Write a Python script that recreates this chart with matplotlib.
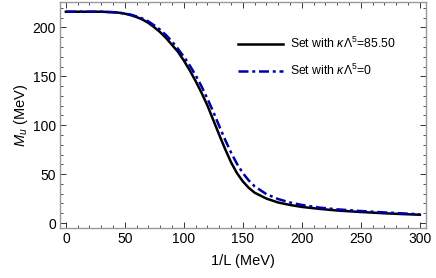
import numpy as np
import matplotlib
matplotlib.use("Agg")
import matplotlib.pyplot as plt
from matplotlib.ticker import MultipleLocator

plt.rcParams['font.family'] = ['Liberation Sans', 'DejaVu Sans']
plt.rcParams['mathtext.fontset'] = 'custom'
plt.rcParams['mathtext.rm'] = 'Liberation Sans'
plt.rcParams['mathtext.it'] = 'Liberation Sans:italic'

# 1/L (MeV) and constituent mass M_u (MeV)
invL = [0, 10, 20, 30, 40, 45, 50, 55, 60, 65, 70, 75, 80, 85, 90, 95,
        100, 105, 110, 115, 120, 125, 130, 135, 140, 145, 150, 155, 160,
        170, 180, 190, 200, 215, 230, 250, 270, 285, 300]
mu_kappa = [216, 216, 216, 216, 215.5, 215, 214, 212.5, 210.5, 208, 204.5,
            200, 195, 189, 182, 175, 166, 156, 145, 133, 120, 105, 90,
            75.5, 62, 51, 42.5, 36, 31, 25, 21, 18.5, 16.5, 14.5, 12.8,
            11.3, 10, 9.2, 8.5]
mu_zero = [216, 216, 216, 216, 215.5, 215, 214.2, 213, 211.2, 209, 206,
           202, 197.5, 192, 185.5, 178, 170, 161, 151, 139.5, 127, 113.5,
           99, 85, 72, 60.5, 51, 43.5, 37.5, 29.5, 24.5, 21, 18.5, 15.8,
           14, 12.3, 10.9, 9.9, 9]
labels = [r"Set with $\kappa\Lambda^5$=85.50", r"Set with $\kappa\Lambda^5$=0"]

fig = plt.figure(figsize=(4.36, 2.78), dpi=100)
ax = fig.add_axes([0.1376, 0.18, 0.839, 0.813])

ax.plot(invL, mu_kappa, color="black", lw=1.8, label=labels[0])
ax.plot(invL, mu_zero, color="#0000aa", lw=1.8, ls=(0, (4, 1.5, 1.2, 1.5)),
        label=labels[1])

ax.set_xlim(-5, 305)
ax.set_ylim(-5, 226)
ax.xaxis.set_major_locator(MultipleLocator(50))
ax.xaxis.set_minor_locator(MultipleLocator(10))
ax.yaxis.set_major_locator(MultipleLocator(50))
ax.yaxis.set_minor_locator(MultipleLocator(10))
ax.tick_params(which="both", direction="in", top=True, right=True,
               labelsize=10, color="#333333", pad=3)
ax.tick_params(which="major", length=4, width=0.7)
ax.tick_params(which="minor", length=2.2, width=0.6)
for s in ax.spines.values():
    s.set_color("#999999")
    s.set_linewidth(1.0)

ax.set_xlabel("1/L (MeV)", fontsize=10.5, labelpad=6)
ax.set_ylabel(r"$M_u$ (MeV)", fontsize=10.5, labelpad=2)

ax.legend(loc="upper left", bbox_to_anchor=(0.486, 0.85), frameon=False,
          fontsize=8.8, handlelength=3.7, handletextpad=0.55,
          labelspacing=0.95, borderpad=0, borderaxespad=0)

fig.savefig("out.png", dpi=100)
